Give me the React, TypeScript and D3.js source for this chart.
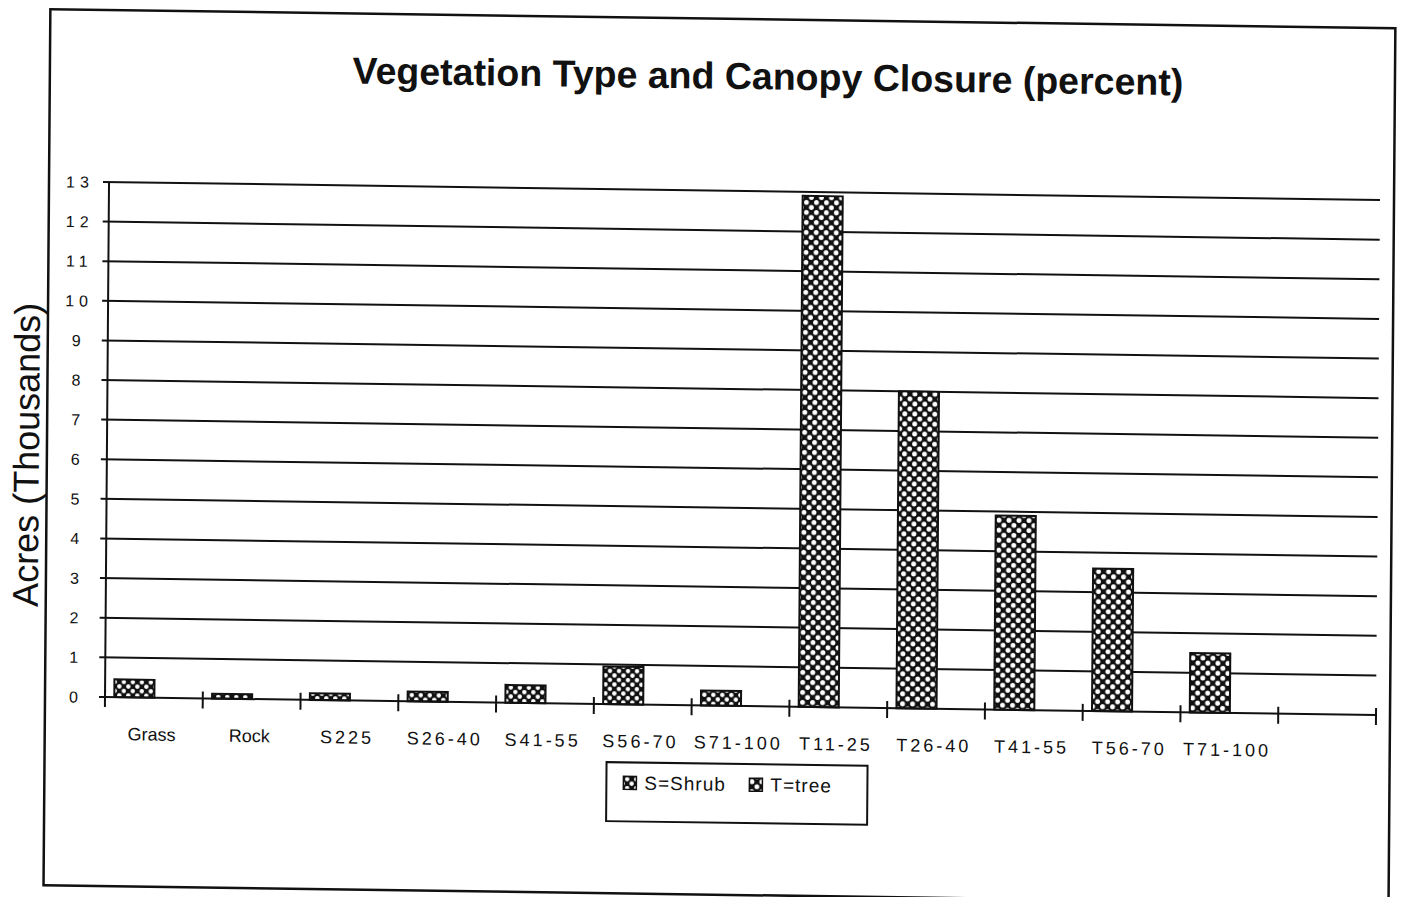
import React, { useEffect, useRef } from "react";
import * as d3 from "d3";

// values (thousands of acres)
const categories = [
  "Grass",
  "Rock",
  "S225",
  "S26-40",
  "S41-55",
  "S56-70",
  "S71-100",
  "T11-25",
  "T26-40",
  "T41-55",
  "T56-70",
  "T71-100",
  "",
];
const shrubValues = [0.45, 0.12, 0.17, 0.25, 0.45, 0.95, 0.38, null, null, null, null, null, null];
const treeValues = [null, null, null, null, null, null, null, 12.9, 8.0, 4.9, 3.6, 1.5, null];
const yTicks = [0, 1, 2, 3, 4, 5, 6, 7, 8, 9, 10, 11, 12, 13];
const legendLabels = ["S=Shrub", "T=tree"];
const title = "Vegetation Type and Canopy Closure (percent)";
const yTitle = "Acres (Thousands)";

const FONT = "'Liberation Sans', Arial, Helvetica, sans-serif";

const App: React.FC = () => {
  const svgRef = useRef<SVGSVGElement | null>(null);

  useEffect(() => {
    const width = 1403;
    const height = 897;
    const plotLeft = 105;
    const plotRight = 1376;

    const svg = d3.select(svgRef.current);
    svg.selectAll("*").remove();
    svg.attr("width", width).attr("height", height).attr("viewBox", [0, 0, width, height]);

    svg.append("rect").attr("width", width).attr("height", height).attr("fill", "white");

    // fill patterns
    const defs = svg.append("defs");
    const makePattern = (id: string, size: number, r: number) => {
      const p = defs
        .append("pattern")
        .attr("id", id)
        .attr("patternUnits", "userSpaceOnUse")
        .attr("width", size)
        .attr("height", size);
      p.append("rect").attr("width", size).attr("height", size).attr("fill", "#111");
      p.append("circle").attr("cx", size / 4).attr("cy", size / 4).attr("r", r).attr("fill", "white");
      p.append("circle").attr("cx", (3 * size) / 4).attr("cy", (3 * size) / 4).attr("r", r).attr("fill", "white");
    };
    makePattern("shrubPat", 9, 2.2);
    makePattern("treePat", 10, 2.4);

    // the scan is slightly skewed, so the whole page is sheared a bit
    const g = svg
      .append("g")
      .attr("transform", "matrix(1,0.0142,-0.0078,1,5.44,-1.49)");

    // outer frame
    g.append("rect")
      .attr("x", 45)
      .attr("y", 10)
      .attr("width", 1345)
      .attr("height", 876)
      .attr("fill", "none")
      .attr("stroke", "#111")
      .attr("stroke-width", 2.5);

    const x = d3.scaleBand().domain(categories).range([plotLeft, plotRight]).padding(0);
    const y = d3.scaleLinear().domain([0, 13]).range([697, 182]);
    const bw = x.bandwidth();

    // title
    g.append("text")
      .attr("x", 763)
      .attr("y", 80)
      .attr("text-anchor", "middle")
      .attr("font-family", FONT)
      .attr("font-weight", "bold")
      .attr("font-size", 37.5)
      .attr("fill", "#111")
      .text(title);

    // y axis title
    g.append("text")
      .attr("transform", `translate(37,456) rotate(-90)`)
      .attr("text-anchor", "middle")
      .attr("font-family", FONT)
      .attr("font-size", 36)
      .attr("fill", "#111")
      .text(yTitle);

    // gridlines + y ticks
    g.append("g")
      .selectAll("line")
      .data(yTicks)
      .join("line")
      .attr("x1", plotLeft - 6)
      .attr("x2", (d) => (d === 0 ? plotLeft : plotRight))
      .attr("y1", (d) => y(d))
      .attr("y2", (d) => y(d))
      .attr("stroke", "#111")
      .attr("stroke-width", 2);

    g.append("g")
      .selectAll("text")
      .data(yTicks)
      .join("text")
      .attr("x", 76)
      .attr("y", (d) => y(d) + 6)
      .attr("text-anchor", "middle")
      .attr("font-family", FONT)
      .attr("font-size", 16)
      .attr("letter-spacing", 5)
      .attr("fill", "#111")
      .text((d) => String(d));

    // y axis line
    g.append("line")
      .attr("x1", plotLeft)
      .attr("x2", plotLeft)
      .attr("y1", y(0))
      .attr("y2", y(13))
      .attr("stroke", "#111")
      .attr("stroke-width", 2);

    // bars
    const rows = categories.map((c, i) => ({
      cat: c,
      value: shrubValues[i] ?? treeValues[i],
      pat: shrubValues[i] != null ? "shrubPat" : "treePat",
    }));
    g.append("g")
      .selectAll("rect")
      .data(rows.filter((d) => d.value != null))
      .join("rect")
      .attr("x", (d) => (x(d.cat) as number) + bw * 0.095)
      .attr("y", (d) => y(d.value as number))
      .attr("width", bw * 0.41)
      .attr("height", (d) => y(0) - y(d.value as number))
      .attr("fill", (d) => `url(#${d.pat})`)
      .attr("stroke", "#111")
      .attr("stroke-width", 2);

    // x axis
    g.append("line")
      .attr("x1", plotLeft)
      .attr("x2", plotRight)
      .attr("y1", y(0))
      .attr("y2", y(0))
      .attr("stroke", "#111")
      .attr("stroke-width", 2);

    const edges = categories.map((c) => x(c) as number).concat([plotRight]);
    g.append("g")
      .selectAll("line")
      .data(edges)
      .join("line")
      .attr("x1", (d) => d)
      .attr("x2", (d) => d)
      .attr("y1", y(0) - 7)
      .attr("y2", y(0) + 10)
      .attr("stroke", "#111")
      .attr("stroke-width", 2);

    g.append("g")
      .selectAll("text")
      .data(categories)
      .join("text")
      .attr("x", (d) => (x(d) as number) + bw / 2 - 2)
      .attr("y", 740)
      .attr("text-anchor", "middle")
      .attr("font-family", FONT)
      .attr("font-size", 18)
      .attr("letter-spacing", (d) => (/\d/.test(d) ? 3 : 0))
      .attr("fill", "#111")
      .text((d) => d);

    // legend
    const lg = g.append("g");
    lg.append("rect")
      .attr("x", 607)
      .attr("y", 755)
      .attr("width", 261)
      .attr("height", 59)
      .attr("fill", "white")
      .attr("stroke", "#111")
      .attr("stroke-width", 2);
    const legendX = [624, 750];
    legendLabels.forEach((lab, i) => {
      lg.append("rect")
        .attr("x", legendX[i])
        .attr("y", 769)
        .attr("width", 13)
        .attr("height", 13)
        .attr("fill", i === 0 ? "url(#shrubPat)" : "url(#treePat)")
        .attr("stroke", "#111")
        .attr("stroke-width", 1.5);
      lg.append("text")
        .attr("x", legendX[i] + 21)
        .attr("y", 782)
        .attr("font-family", FONT)
        .attr("font-size", 19)
        .attr("letter-spacing", 1)
        .attr("fill", "#111")
        .text(lab);
    });
  }, []);

  return (
    <div style={{ position: "absolute", left: 0, top: 0 }}>
      <svg ref={svgRef}></svg>
    </div>
  );
};

export default App;
